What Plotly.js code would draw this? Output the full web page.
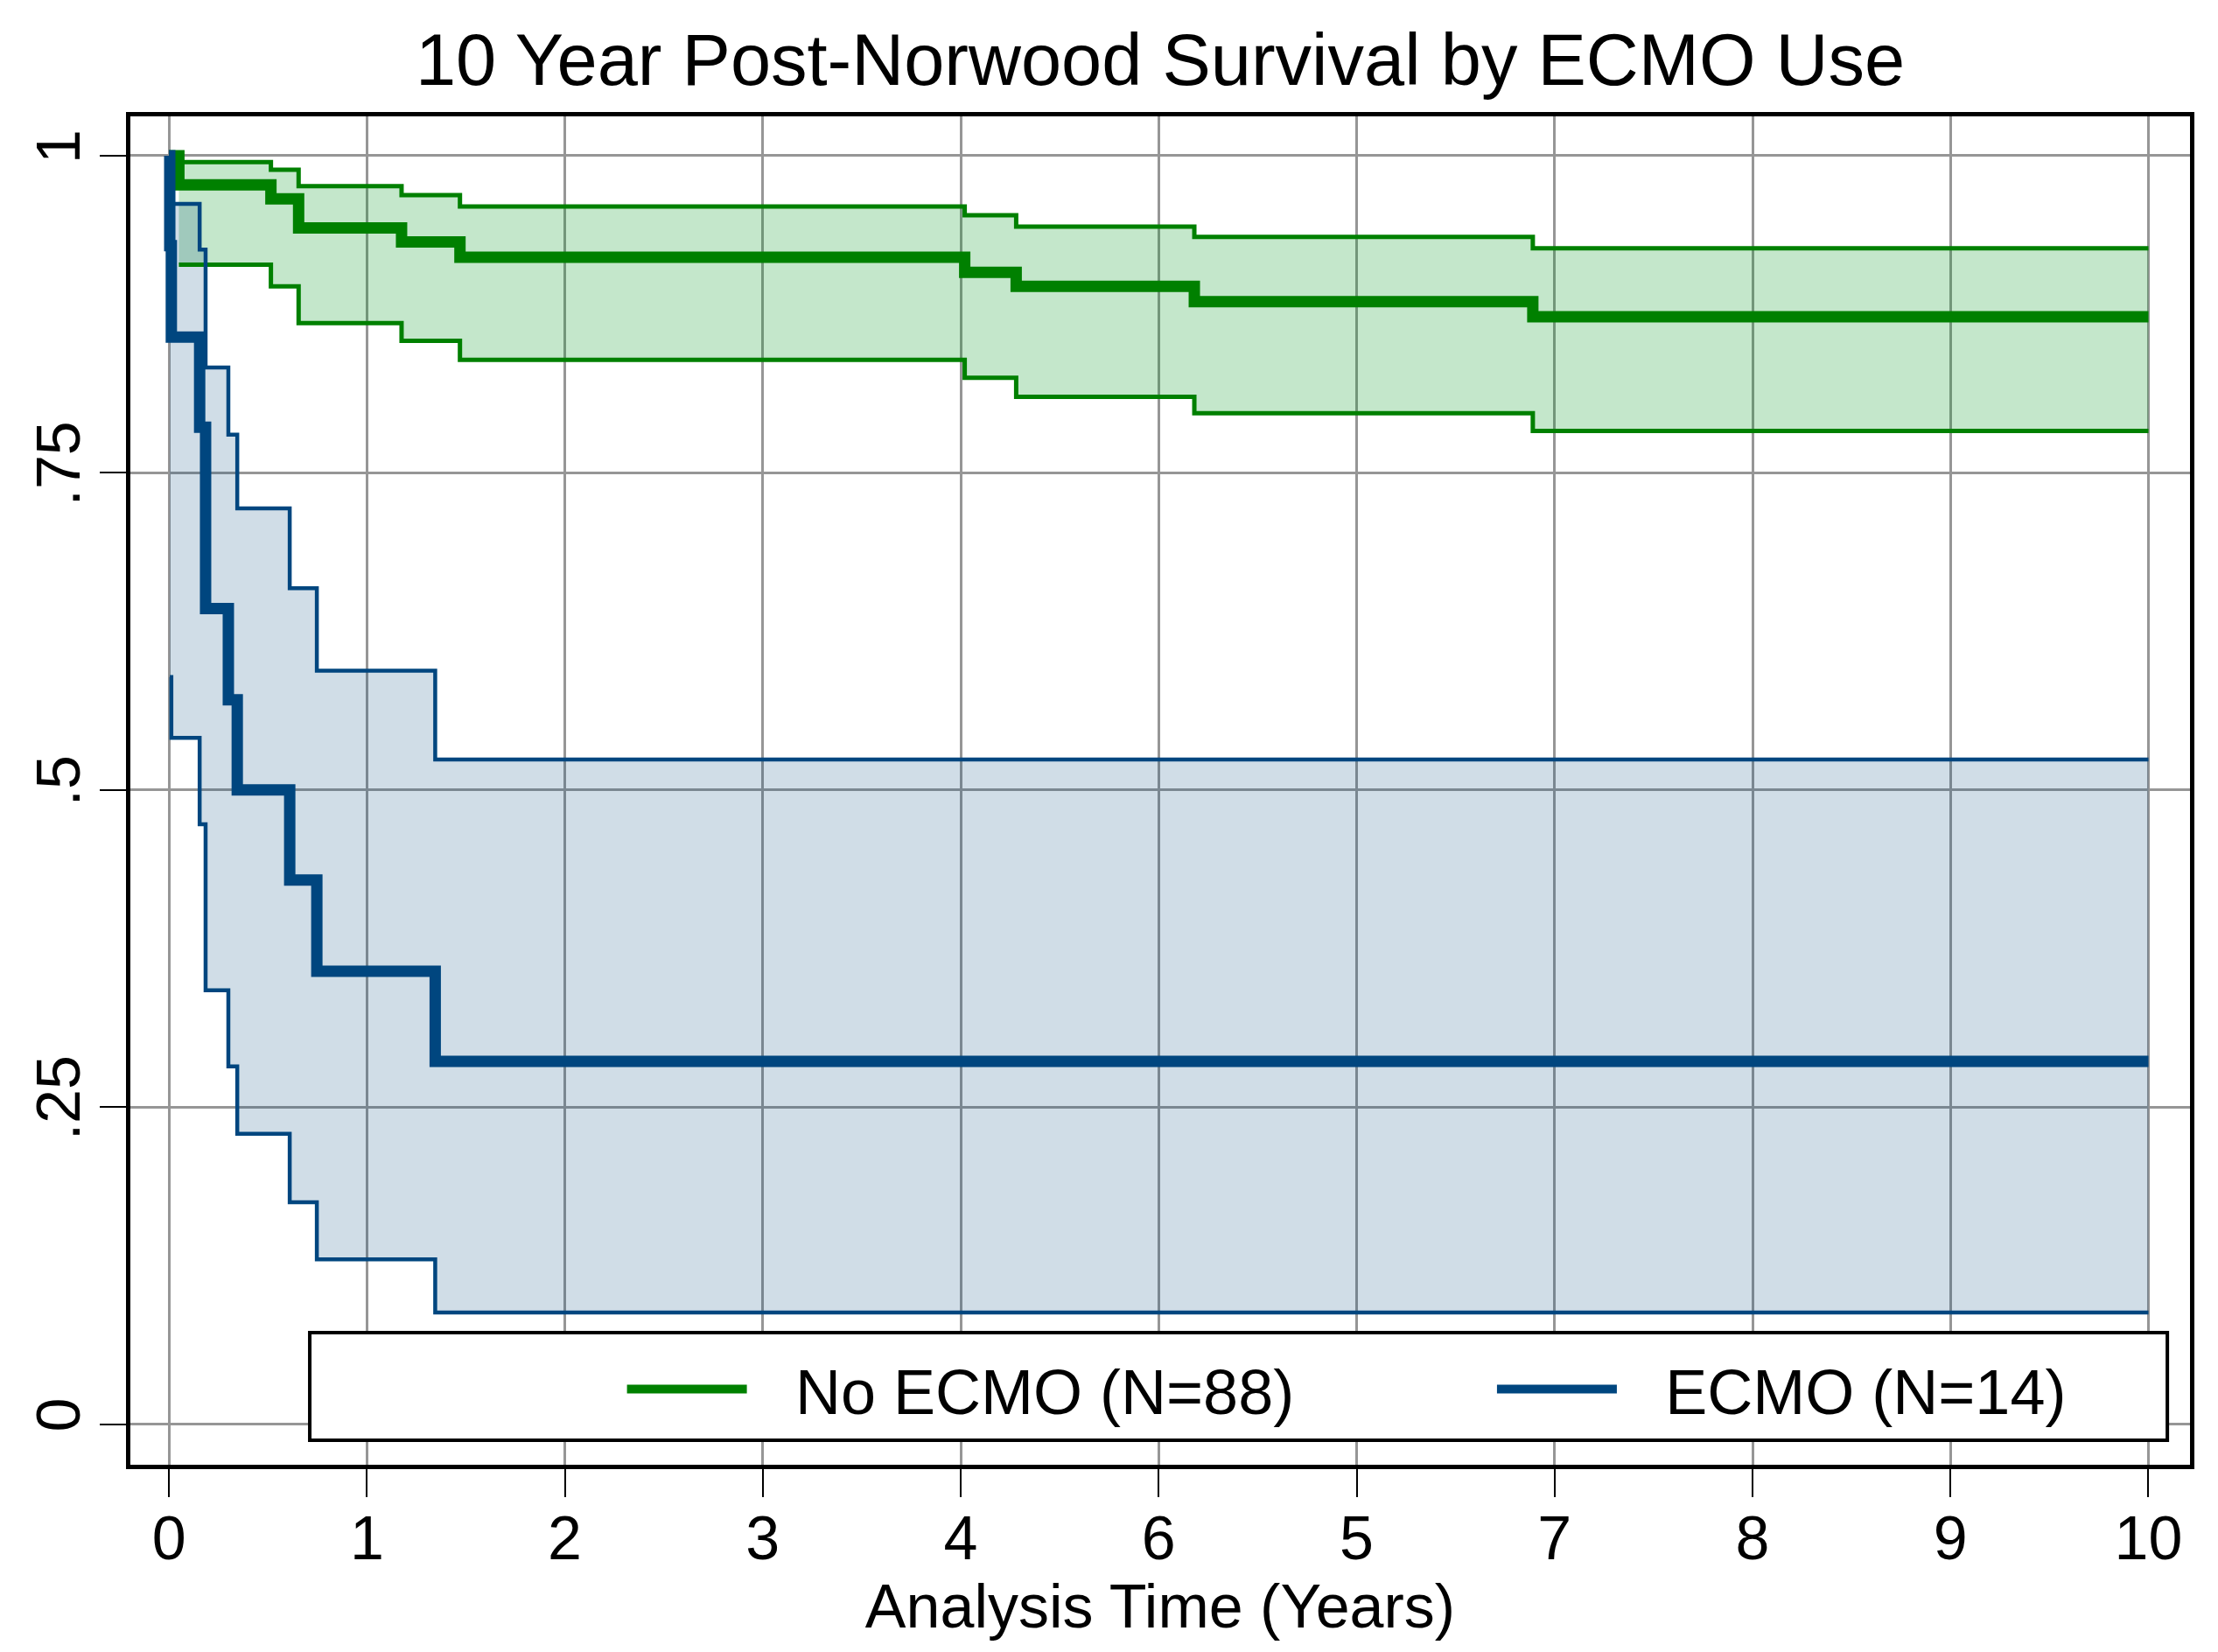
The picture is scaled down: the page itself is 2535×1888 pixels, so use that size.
<!DOCTYPE html>
<html>
<head>
<meta charset="utf-8">
<script src="https://cdn.plot.ly/plotly-3.0.1.min.js"></script>
<style>
  html, body { margin: 0; padding: 0; background: #ffffff; }
  #chart { width: 2535px; height: 1888px; }
</style>
</head>
<body>
<div id="chart"></div>
<script>
// ---- Data ----
// No ECMO group (N=88): Kaplan-Meier estimate and 95% CI
const noEcmoTime  = [0, 0.05, 0.515, 0.655, 1.175, 1.47, 4.02, 4.28, 5.18, 6.89, 10];
const noEcmoSurv  = [1, 0.977, 0.966, 0.943, 0.932, 0.920, 0.908, 0.897, 0.885, 0.873, 0.873];
const noEcmoCiTime = [0.05, 0.515, 0.655, 1.175, 1.47, 4.02, 4.28, 5.18, 6.89, 10];
const noEcmoUpper = [0.995, 0.989, 0.976, 0.969, 0.960, 0.953, 0.944, 0.936, 0.927, 0.927];
const noEcmoLower = [0.914, 0.897, 0.868, 0.854, 0.839, 0.825, 0.810, 0.797, 0.783, 0.783];

// ECMO group (N=14)
const ecmoTime  = [0, 0.004, 0.012, 0.155, 0.185, 0.30, 0.345, 0.61, 0.747, 1.345, 10];
const ecmoSurv  = [1, 0.929, 0.857, 0.786, 0.643, 0.571, 0.500, 0.429, 0.357, 0.286, 0.286];
const ecmoCiTime = [0.004, 0.012, 0.155, 0.185, 0.30, 0.345, 0.61, 0.747, 1.345, 10];
const ecmoUpper = [0.962, 0.962, 0.926, 0.833, 0.780, 0.722, 0.659, 0.594, 0.524, 0.524];
const ecmoLower = [0.589, 0.541, 0.473, 0.342, 0.282, 0.229, 0.175, 0.130, 0.088, 0.088];

// Axis ticks (labels exactly as printed in the reference)
const xTickVals = [0, 1, 2, 3, 4, 5, 6, 7, 8, 9, 10];
const xTickText = ['0', '1', '2', '3', '4', '6', '5', '7', '8', '9', '10'];
const yTickVals = [0, 0.25, 0.5, 0.75, 1];
const yTickText = ['0', '.25', '.5', '.75', '1'];

const seriesNames = ['No ECMO (N=88)', 'ECMO (N=14)'];

// ---- Styles ----
const GREEN = '#008000';
const GREEN_FILL = 'rgba(0,150,30,0.23)';
const BLUE = '#00467f';
const BLUE_FILL = 'rgba(0,70,127,0.185)';
const FONT = 'Liberation Sans, Arial, sans-serif';
const LEGEND_GAP = '\u2002\u2009';

const traces = [
  // green CI band
  { x: noEcmoCiTime, y: noEcmoUpper, type: 'scatter', mode: 'lines', line: { shape: 'hv', width: 0, color: GREEN }, showlegend: false, hoverinfo: 'skip' },
  { x: noEcmoCiTime, y: noEcmoLower, type: 'scatter', mode: 'lines', line: { shape: 'hv', width: 0, color: GREEN }, fill: 'tonexty', fillcolor: GREEN_FILL, showlegend: false, hoverinfo: 'skip' },
  // blue CI band
  { x: ecmoCiTime, y: ecmoUpper, type: 'scatter', mode: 'lines', line: { shape: 'hv', width: 0, color: BLUE }, showlegend: false, hoverinfo: 'skip' },
  { x: ecmoCiTime, y: ecmoLower, type: 'scatter', mode: 'lines', line: { shape: 'hv', width: 0, color: BLUE }, fill: 'tonexty', fillcolor: BLUE_FILL, showlegend: false, hoverinfo: 'skip' },
  // CI boundary lines
  { x: noEcmoCiTime, y: noEcmoUpper, type: 'scatter', mode: 'lines', line: { shape: 'hv', width: 5, color: GREEN }, showlegend: false },
  { x: noEcmoCiTime, y: noEcmoLower, type: 'scatter', mode: 'lines', line: { shape: 'hv', width: 5, color: GREEN }, showlegend: false },
  { x: ecmoCiTime, y: ecmoUpper, type: 'scatter', mode: 'lines', line: { shape: 'hv', width: 4.5, color: BLUE }, showlegend: false },
  { x: ecmoCiTime, y: ecmoLower, type: 'scatter', mode: 'lines', line: { shape: 'hv', width: 4.5, color: BLUE }, showlegend: false },
  // survival curves
  { x: noEcmoTime, y: noEcmoSurv, type: 'scatter', mode: 'lines', name: LEGEND_GAP + seriesNames[0], legend: 'legend', line: { shape: 'hv', width: 13, color: GREEN } },
  { x: ecmoTime, y: ecmoSurv, type: 'scatter', mode: 'lines', name: LEGEND_GAP + seriesNames[1], legend: 'legend2', line: { shape: 'hv', width: 13, color: BLUE } }
];

const legendCommon = {
  orientation: 'h',
  xanchor: 'left', xref: 'paper',
  y: 0.056, yanchor: 'middle', yref: 'paper',
  bgcolor: 'rgba(0,0,0,0)', borderwidth: 0,
  font: { family: FONT, size: 72, color: '#000000' },
  itemwidth: 137
};

const layout = {
  width: 2535,
  height: 1888,
  paper_bgcolor: '#ffffff',
  plot_bgcolor: '#ffffff',
  margin: { l: 149, r: 32, t: 133, b: 214, pad: 0 },
  font: { family: FONT, color: '#000000', size: 70 },
  title: {
    text: '10 Year Post-Norwood Survival by ECMO Use',
    font: { family: FONT, size: 83, color: '#000000' },
    x: 0.5, xref: 'paper', xanchor: 'center',
    y: 0.964, yref: 'container', yanchor: 'middle'
  },
  xaxis: {
    range: [-0.195, 10.21],
    tickmode: 'array', tickvals: xTickVals, ticktext: xTickText,
    ticks: 'outside', ticklen: 32, tickwidth: 2, tickcolor: '#000000',
    ticklabelstandoff: -13,
    showgrid: true, gridcolor: '#969696', gridwidth: 3,
    zeroline: false,
    showline: true, linecolor: '#000000', linewidth: 5, mirror: true,
    tickfont: { family: FONT, size: 70, color: '#000000' },
    title: { text: 'Analysis Time (Years)', font: { family: FONT, size: 70, color: '#000000' }, standoff: 0 }
  },
  yaxis: {
    range: [-0.032, 1.031],
    tickmode: 'array', tickvals: yTickVals, ticktext: yTickText,
    ticks: 'outside', ticklen: 30, tickwidth: 2, tickcolor: '#000000',
    tickangle: -90,
    ticklabelstandoff: -5,
    showgrid: true, gridcolor: '#969696', gridwidth: 3,
    zeroline: false,
    showline: true, linecolor: '#000000', linewidth: 5, mirror: true,
    tickfont: { family: FONT, size: 70, color: '#000000' }
  },
  shapes: [
    { type: 'rect', xref: 'paper', yref: 'paper', x0: 0.0871, x1: 0.989, y0: 0.0182, y1: 0.098,
      fillcolor: '#ffffff', line: { color: '#000000', width: 4 }, layer: 'above' }
  ],
  showlegend: true,
  legend: Object.assign({}, legendCommon, { x: 0.239 }),
  legend2: Object.assign({}, legendCommon, { x: 0.6614 })
};

Plotly.newPlot('chart', traces, layout, { displayModeBar: false, staticPlot: true });
</script>
</body>
</html>
